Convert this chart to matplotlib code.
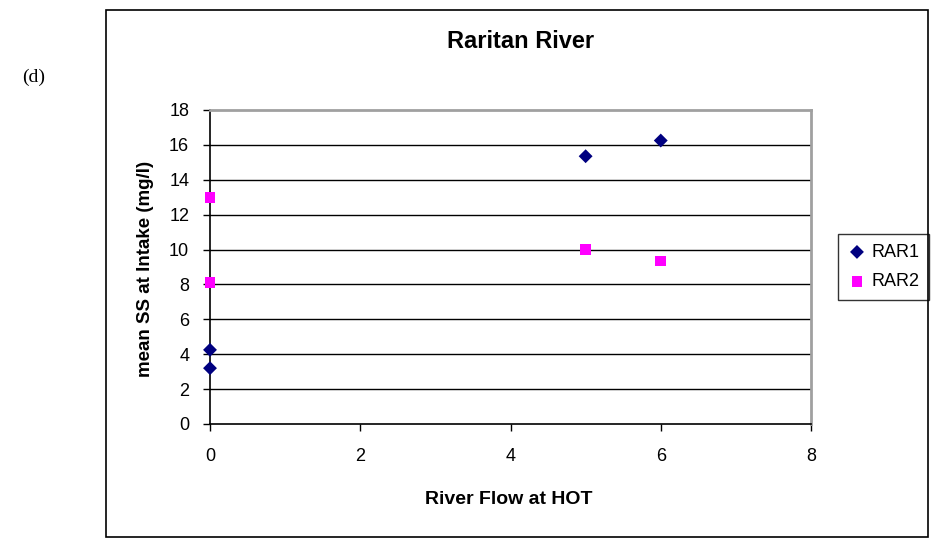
import matplotlib.pyplot as plt
from matplotlib.patches import Rectangle

# data
rar1_x = [0, 0, 5, 6]
rar1_y = [3.2, 4.25, 15.35, 16.25]
rar2_x = [0, 0, 5, 6]
rar2_y = [13.0, 8.1, 10.0, 9.35]
y_ticks = [0, 2, 4, 6, 8, 10, 12, 14, 16, 18]
x_ticks = [0, 2, 4, 6, 8]

plt.rcParams['font.family'] = ['Liberation Sans', 'DejaVu Sans']

fig = plt.figure(figsize=(9.37, 5.4), dpi=100)
ax = fig.add_axes([210 / 937, 1 - 424 / 540, 601 / 937, 314 / 540])

# outer chart border
fig.patches.append(Rectangle((106 / 937, 3 / 540), 822 / 937, 527 / 540,
                             transform=fig.transFigure, fill=False,
                             edgecolor='black', linewidth=1.2))
fig.text(22 / 937, 1 - 77 / 540, '(d)', fontsize=14, family='Liberation Serif',
         va='center', ha='left')

for yv in y_ticks[1:-1]:
    ax.axhline(yv, color='black', linewidth=1.0, zorder=1)

ax.scatter(rar1_x, rar1_y, marker='D', s=50, color='#000080', label='RAR1',
           zorder=3, clip_on=False, edgecolors='none')
ax.scatter(rar2_x, rar2_y, marker='s', s=60, color='#ff00ff', label='RAR2',
           zorder=3, clip_on=False, edgecolors='none')

ax.set_xlim(0, 8)
ax.set_ylim(0, 18)
ax.set_xticks(x_ticks)
ax.set_yticks(y_ticks)
ax.tick_params(labelsize=13, direction='out', length=5, width=1)
ax.tick_params(axis='x', pad=12)
ax.tick_params(axis='y', pad=10)

for s in ['top', 'right']:
    ax.spines[s].set_color('#a0a0a0')
    ax.spines[s].set_linewidth(2)
ax.spines['left'].set_linewidth(1.2)
ax.spines['bottom'].set_linewidth(1.2)

fig.text(521 / 937, 1 - 42 / 540, 'Raritan River', fontsize=17, fontweight='bold',
         ha='center', va='center')
fig.text(509 / 937, 1 - 500 / 540, 'River Flow at HOT', fontsize=14,
         fontweight='bold', ha='center', va='center')
fig.text(146 / 937, 1 - 269 / 540, 'mean SS at Intake (mg/l)', fontsize=13.5,
         fontweight='bold', ha='center', va='center', rotation=90)

ax.legend(loc='center left', bbox_to_anchor=(838 / 937, 1 - 267 / 540),
          bbox_transform=fig.transFigure, borderaxespad=0, fontsize=13,
          frameon=True, fancybox=False, edgecolor='black', handletextpad=0.3,
          handlelength=1.0, borderpad=0.55, labelspacing=0.7, scatterpoints=1)

fig.savefig('out.png', dpi=100)
